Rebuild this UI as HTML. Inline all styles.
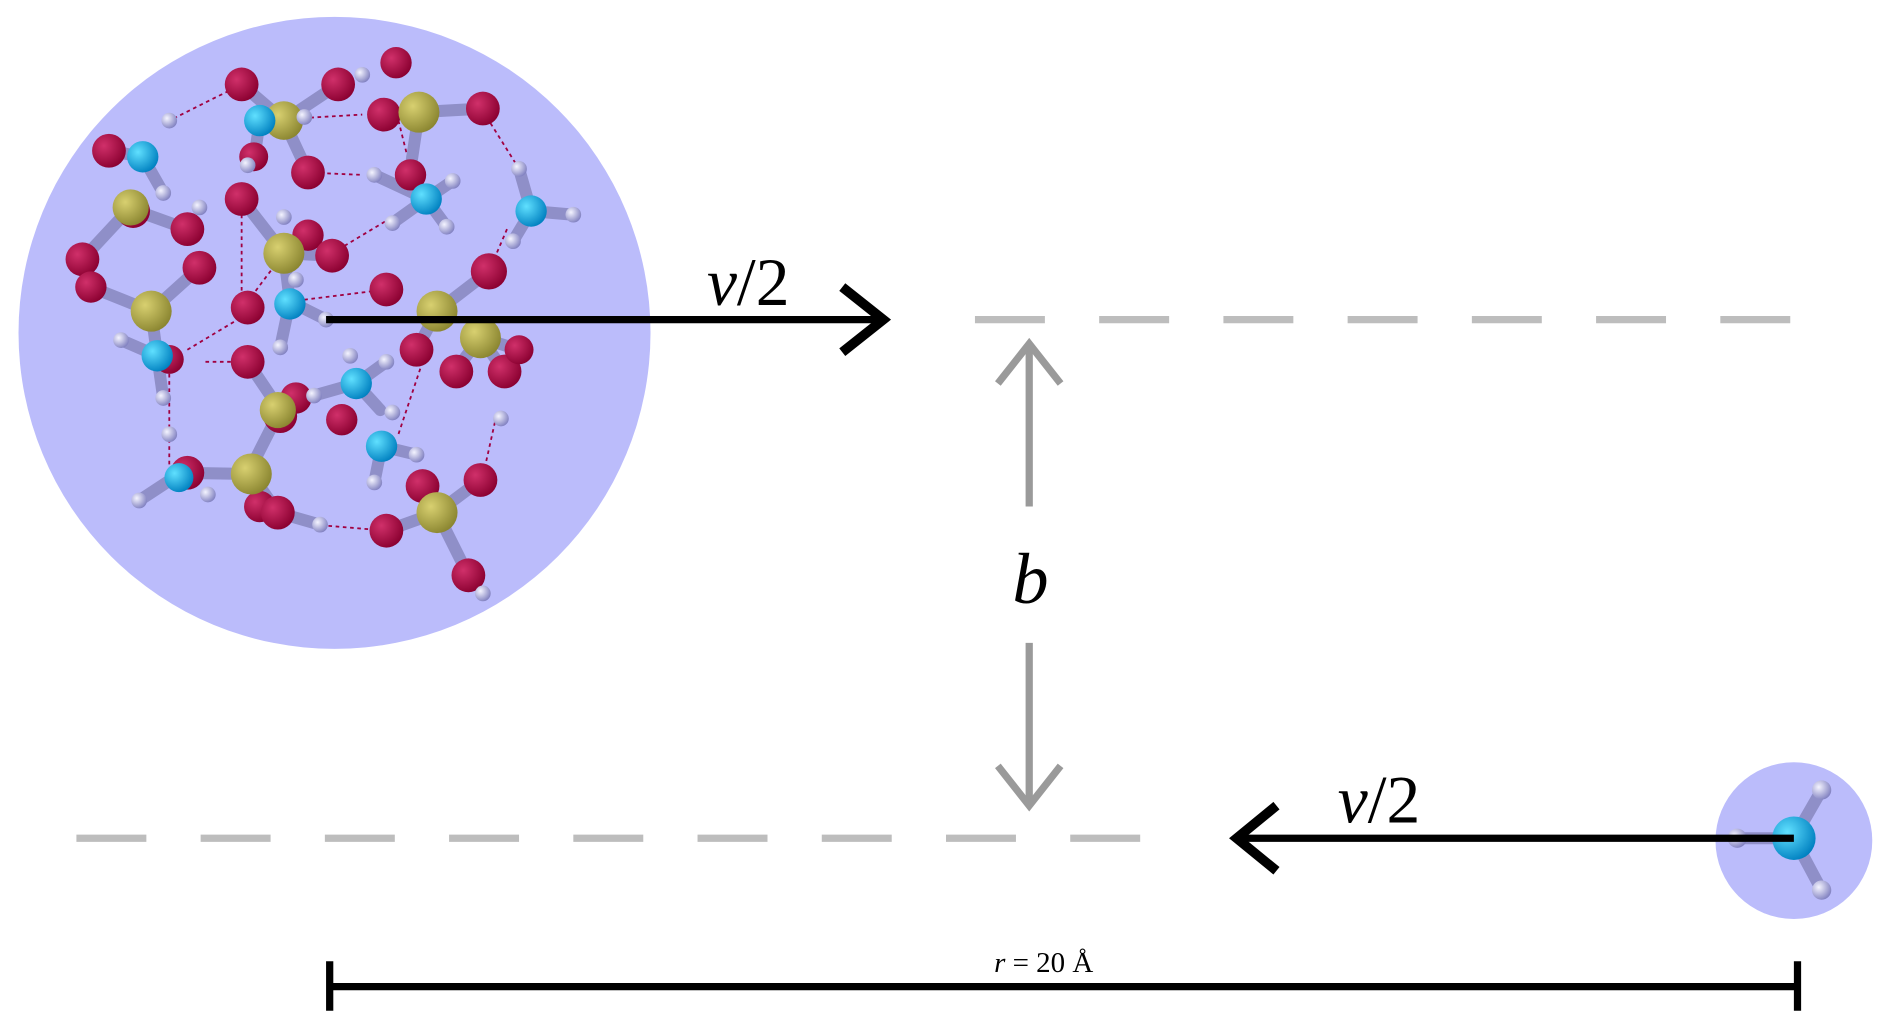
<!DOCTYPE html>
<html><head><meta charset="utf-8"><style>html,body{margin:0;padding:0;background:#fff}svg{display:block}</style></head>
<body>
<svg width="1892" height="1030" viewBox="0 0 1568 854" xmlns="http://www.w3.org/2000/svg">
<defs>
<radialGradient id="o" cx="0.35" cy="0.35" r="0.7"><stop offset="0" stop-color="#d0306a"/><stop offset="1" stop-color="#8a0030"/></radialGradient>
<radialGradient id="s" cx="0.35" cy="0.35" r="0.7"><stop offset="0" stop-color="#d8d070"/><stop offset="1" stop-color="#8a8530"/></radialGradient>
<radialGradient id="n" cx="0.35" cy="0.35" r="0.7"><stop offset="0" stop-color="#60e0ff"/><stop offset="1" stop-color="#0080c0"/></radialGradient>
<radialGradient id="h" cx="0.35" cy="0.35" r="0.7"><stop offset="0" stop-color="#f4f4ff"/><stop offset="1" stop-color="#8080c0"/></radialGradient>
</defs>
<circle cx="277" cy="276" r="262" fill="#bbbcfb"/>
<circle cx="1487" cy="697" r="65" fill="#bbbcfb"/>
<g stroke="#a00040" stroke-width="1.5" stroke-dasharray="3,3" fill="none">
<path d="M200 70 L140 100 M215 100 L300 95 M253 143 L300 145 M330 100 L340 140 M400 92 L430 140 M235 210 L205 250 M275 210 L350 165 M240 250 L320 240 M155 290 L205 260 M170 300 L205 300 M140 310 L140 390 M410 350 L400 395 M350 300 L330 360 M260 435 L320 440 M200 160 L200 255 M420 190 L405 225"/>
</g>
<g stroke="#8f8fc8" stroke-width="10" stroke-linecap="round">
<path d="M118 130 L90 125 M118 130 L135 160 M105 172 L155 190 M108 172 L68 215 M125 258 L75 238 M125 258 L165 222 M125 258 L130 295 M130 295 L100 282 M130 295 L135 330 M235 100 L200 70 M235 100 L280 70 M235 100 L255 143 M215 100 L210 135 M347 93 L400 90 M347 93 L318 95 M347 93 L340 140 M353 165 L325 185 M353 165 L375 150 M353 165 L370 188 M353 165 L310 145 M440 175 L475 178 M440 175 L430 140 M440 175 L425 200 M235 210 L200 165 M235 210 L275 212 M235 210 L240 250 M240 250 L270 265 M240 250 L232 288 M362 258 L405 225 M362 258 L345 290 M398 280 L430 290 M398 280 L418 308 M398 280 L378 306 M295 318 L260 328 M295 318 L320 300 M295 318 L315 340 M232 340 L205 300 M232 340 L245 330 M232 340 L205 393 M316 370 L345 377 M316 370 L310 400 M208 393 L150 392 M208 393 L230 425 M150 392 L115 415 M362 425 L320 440 M362 425 L388 477 M362 425 L350 403 M362 425 L398 398 M230 425 L265 435"/>
<path d="M1487 695 L1440 695 M1487 695 L1510 655 M1487 695 L1510 738"/>
</g>
<g>
<g fill="url(#o)">
<circle cx="90" cy="125" r="14"/><circle cx="155" cy="190" r="14"/><circle cx="68" cy="215" r="14"/><circle cx="75" cy="238" r="13"/><circle cx="165" cy="222" r="14"/><circle cx="110" cy="175" r="14"/>
<circle cx="200" cy="70" r="14"/><circle cx="280" cy="70" r="14"/><circle cx="328" cy="52" r="13"/><circle cx="255" cy="143" r="14"/><circle cx="210" cy="130" r="12"/><circle cx="400" cy="90" r="14"/><circle cx="318" cy="95" r="14"/><circle cx="340" cy="145" r="13"/>
<circle cx="200" cy="165" r="14"/><circle cx="255" cy="195" r="13"/><circle cx="275" cy="212" r="14"/><circle cx="205" cy="255" r="14"/><circle cx="320" cy="240" r="14"/><circle cx="405" cy="225" r="15"/><circle cx="345" cy="290" r="14"/><circle cx="378" cy="308" r="14"/><circle cx="418" cy="308" r="14"/><circle cx="430" cy="290" r="12"/><circle cx="140" cy="298" r="12"/>
<circle cx="205" cy="300" r="14"/><circle cx="245" cy="330" r="13"/><circle cx="232" cy="345" r="14"/><circle cx="283" cy="348" r="13"/><circle cx="155" cy="392" r="14"/><circle cx="215" cy="420" r="13"/><circle cx="230" cy="425" r="14"/><circle cx="320" cy="440" r="14"/><circle cx="350" cy="403" r="14"/><circle cx="398" cy="398" r="14"/><circle cx="388" cy="477" r="14"/>
</g>
<g fill="url(#s)">
<circle cx="108" cy="172" r="15"/><circle cx="125" cy="258" r="17"/><circle cx="235" cy="100" r="16"/><circle cx="347" cy="93" r="17"/><circle cx="235" cy="210" r="17"/><circle cx="362" cy="258" r="17"/><circle cx="398" cy="280" r="17"/><circle cx="230" cy="340" r="15"/><circle cx="208" cy="393" r="17"/><circle cx="362" cy="425" r="17"/>
</g>
<g fill="url(#n)">
<circle cx="118" cy="130" r="13"/><circle cx="215" cy="100" r="13"/><circle cx="353" cy="165" r="13"/><circle cx="440" cy="175" r="13"/><circle cx="240" cy="252" r="13"/><circle cx="130" cy="295" r="13"/><circle cx="295" cy="318" r="13"/><circle cx="316" cy="370" r="13"/><circle cx="148" cy="396" r="12"/>
<circle cx="1487" cy="695" r="18"/>
</g>
<g fill="url(#h)">
<circle cx="140" cy="100" r="6.5"/><circle cx="135" cy="160" r="6.5"/><circle cx="165" cy="172" r="6.5"/><circle cx="300" cy="62" r="6.5"/><circle cx="252" cy="97" r="6.5"/><circle cx="205" cy="137" r="6.5"/><circle cx="310" cy="145" r="6.5"/><circle cx="375" cy="150" r="6.5"/><circle cx="325" cy="185" r="6.5"/><circle cx="370" cy="188" r="6.5"/><circle cx="430" cy="140" r="6.5"/><circle cx="475" cy="178" r="6.5"/><circle cx="425" cy="200" r="6.5"/><circle cx="235" cy="180" r="6.5"/><circle cx="270" cy="265" r="6.5"/><circle cx="245" cy="232" r="6.5"/><circle cx="232" cy="288" r="6.5"/><circle cx="100" cy="282" r="6.5"/><circle cx="135" cy="330" r="6.5"/><circle cx="290" cy="295" r="6.5"/><circle cx="320" cy="300" r="6.5"/><circle cx="260" cy="328" r="6.5"/><circle cx="325" cy="342" r="6.5"/><circle cx="345" cy="377" r="6.5"/><circle cx="310" cy="400" r="6.5"/><circle cx="140" cy="360" r="6.5"/><circle cx="115" cy="415" r="6.5"/><circle cx="172" cy="410" r="6.5"/><circle cx="265" cy="435" r="6.5"/><circle cx="400" cy="492" r="6.5"/><circle cx="415" cy="347" r="6.5"/>
<circle cx="1440" cy="695" r="8"/><circle cx="1510" cy="655" r="8"/><circle cx="1510" cy="738" r="8"/>
</g>
</g>
<line x1="808" y1="265" x2="1488" y2="265" stroke="#bdbdbd" stroke-width="6" stroke-dasharray="58,45"/>
<line x1="63" y1="695" x2="950" y2="695" stroke="#bdbdbd" stroke-width="6" stroke-dasharray="58,45"/>
<g stroke="#000" stroke-width="6" fill="none">
<line x1="270" y1="265" x2="730" y2="265"/>
<polyline points="698,238 732,265 698,292" stroke-width="8"/>
<line x1="1487" y1="695" x2="1028" y2="695"/>
<polyline points="1058,668 1025,695 1058,722" stroke-width="8"/>
<line x1="273" y1="818" x2="1490" y2="818"/>
<line x1="273" y1="797" x2="273" y2="838"/>
<line x1="1490" y1="797" x2="1490" y2="838"/>
</g>
<g stroke="#9a9a9a" stroke-width="6" fill="none">
<line x1="853" y1="288" x2="853" y2="420"/>
<polyline points="827,318 853,285 879,318"/>
<line x1="853" y1="533" x2="853" y2="665"/>
<polyline points="827,635 853,668 879,635"/>
</g>
<g font-family="'Liberation Serif', serif" fill="#000">
<text x="620" y="253" font-size="56" text-anchor="middle"><tspan font-style="italic">v</tspan>/2</text>
<text x="1143" y="682" font-size="56" text-anchor="middle"><tspan font-style="italic">v</tspan>/2</text>
<text x="854" y="500" font-size="60" font-style="italic" text-anchor="middle">b</text>
<text x="865" y="806" font-size="24" text-anchor="middle"><tspan font-style="italic">r</tspan> = 20 Å</text>
</g>
</svg>
</body></html>
